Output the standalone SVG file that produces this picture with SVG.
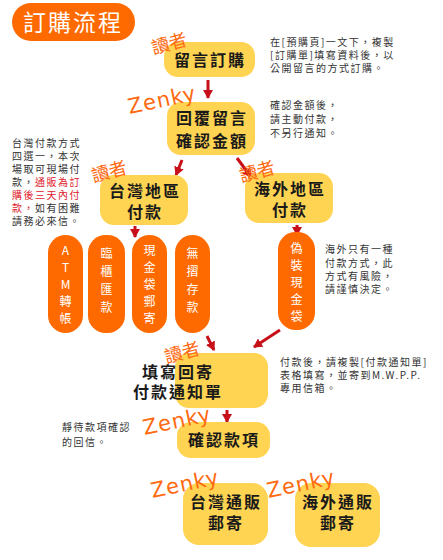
<svg xmlns="http://www.w3.org/2000/svg" width="443" height="560" viewBox="0 0 443 560">
<defs>
<marker id="ah" markerUnits="userSpaceOnUse" markerWidth="10" markerHeight="10" refX="8" refY="5" orient="auto">
<path d="M0,0 L9,5 L0,10 Z" fill="#C8101A"/>
</marker>
<style>
.node{fill:#FFD452;}
.pill{fill:#FF6A00;}
.nt{font-family:"Noto Sans CJK TC","Noto Sans CJK SC",sans-serif;font-size:16px;font-weight:bold;fill:#1a1a1a;text-anchor:middle;letter-spacing:2px;}
.pt{font-family:"Noto Sans CJK TC","Liberation Sans",sans-serif;font-size:12px;fill:#fff;text-anchor:middle;}
.note{font-family:"Noto Sans CJK TC","Noto Sans CJK SC",sans-serif;font-size:10px;fill:#333;letter-spacing:1.5px;}
.red{fill:#E0202A;}
.who{font-family:"Noto Sans CJK TC","Noto Sans CJK SC",sans-serif;font-size:18px;fill:#FF6A10;text-anchor:middle;}
.zk{font-family:"DejaVu Sans",sans-serif;font-size:21px;fill:#FF6A10;text-anchor:middle;letter-spacing:1px;}
.conn line{stroke:#C8101A;stroke-width:3;marker-end:url(#ah);}
</style>
</defs>
<rect width="443" height="560" fill="#fff"/>

<g id="title">
<rect x="12" y="3" width="123" height="38" rx="19" fill="#FF6A00"/>
<text x="73" y="31" font-family="Noto Sans CJK TC,sans-serif" font-size="23" fill="#fff" text-anchor="middle" letter-spacing="2">訂購流程</text>
</g>

<g class="conn" id="connectors">
<line x1="208" y1="80" x2="208" y2="98"/>
<line x1="182" y1="160" x2="176" y2="175"/>
<line x1="237" y1="158" x2="251" y2="177"/>
<line x1="135" y1="226" x2="135" y2="237"/>
<line x1="297" y1="225" x2="297" y2="235"/>
<line x1="207" y1="336" x2="214" y2="350"/>
<line x1="280" y1="330" x2="254" y2="347"/>
<line x1="227" y1="410" x2="227" y2="422"/>
</g>

<g id="n1">
<rect class="node" x="164" y="42" width="91" height="35" rx="14"/>
<text class="nt" x="210" y="66" font-size="15">留言訂購</text>
</g>
<g id="n2">
<rect class="node" x="167" y="102" width="88" height="53" rx="14"/>
<text class="nt" x="212" y="124">回覆留言</text>
<text class="nt" x="212" y="147">確認金額</text>
</g>
<g id="n3">
<rect class="node" x="100" y="175" width="88" height="50" rx="14"/>
<text class="nt" x="145" y="197">台灣地區</text>
<text class="nt" x="145" y="218">付款</text>
</g>
<g id="n4">
<rect class="node" x="245" y="173" width="88" height="50" rx="14"/>
<text class="nt" x="290" y="195">海外地區</text>
<text class="nt" x="290" y="216">付款</text>
</g>

<g id="p1">
<rect class="pill" x="48" y="235" width="35" height="98" rx="17.5"/>
<text class="pt" x="65.5" y="255">A</text>
<text class="pt" x="65.5" y="272">T</text>
<text class="pt" x="65.5" y="289">M</text>
<text class="pt" x="65.5" y="306">轉</text>
<text class="pt" x="65.5" y="323">帳</text>
</g>
<g id="p2">
<rect class="pill" x="88" y="235" width="37" height="98" rx="17.5"/>
<text class="pt" x="106.5" y="258">臨</text>
<text class="pt" x="106.5" y="276">櫃</text>
<text class="pt" x="106.5" y="294">匯</text>
<text class="pt" x="106.5" y="312">款</text>
</g>
<g id="p3">
<rect class="pill" x="132" y="235" width="35" height="98" rx="17.5"/>
<text class="pt" x="149.5" y="255">現</text>
<text class="pt" x="149.5" y="272">金</text>
<text class="pt" x="149.5" y="289">袋</text>
<text class="pt" x="149.5" y="306">郵</text>
<text class="pt" x="149.5" y="323">寄</text>
</g>
<g id="p4">
<rect class="pill" x="175" y="235" width="35" height="98" rx="17.5"/>
<text class="pt" x="192.5" y="258">無</text>
<text class="pt" x="192.5" y="276">摺</text>
<text class="pt" x="192.5" y="294">存</text>
<text class="pt" x="192.5" y="312">款</text>
</g>
<g id="p5">
<rect class="pill" x="278" y="232" width="37" height="98" rx="17.5"/>
<text class="pt" x="296.5" y="253">偽</text>
<text class="pt" x="296.5" y="270">裝</text>
<text class="pt" x="296.5" y="287">現</text>
<text class="pt" x="296.5" y="304">金</text>
<text class="pt" x="296.5" y="321">袋</text>
</g>

<g id="n5">
<rect class="node" x="175" y="353" width="93" height="55" rx="14"/>
<text class="nt" x="178" y="378" text-anchor="start" font-size="16.5">填寫回寄</text>
<text class="nt" x="178" y="398" text-anchor="start" font-size="16.5" letter-spacing="1">付款通知單</text>
</g>
<g id="n6">
<rect class="node" x="177" y="422" width="93" height="36" rx="14"/>
<text class="nt" x="224" y="446">確認款項</text>
</g>
<g id="n7">
<rect class="node" x="183" y="483" width="85" height="62" rx="16"/>
<text class="nt" x="226" y="508" letter-spacing="1">台灣通販</text>
<text class="nt" x="226" y="529">郵寄</text>
</g>
<g id="n8">
<rect class="node" x="295" y="483" width="85" height="64" rx="16"/>
<text class="nt" x="338" y="508" letter-spacing="1">海外通販</text>
<text class="nt" x="338" y="529">郵寄</text>
</g>

<g id="labels">
<text class="who" x="169" y="50" transform="rotate(-15 169 43)">讀者</text>
<text class="who" x="109" y="178" transform="rotate(-15 109 171)">讀者</text>
<text class="who" x="257" y="178" transform="rotate(-15 257 171)">讀者</text>
<text class="who" x="182" y="359" transform="rotate(-15 182 352)">讀者</text>
<text class="zk" x="162" y="107" transform="rotate(-12 162 100)">Zenky</text>
<text class="zk" x="177" y="428" transform="rotate(-12 177 421)">Zenky</text>
<text class="zk" x="185" y="491" transform="rotate(-12 185 484)">Zenky</text>
<text class="zk" x="301" y="491" transform="rotate(-12 301 484)">Zenky</text>
</g>

<g id="notes">
<text class="note" x="270" y="46">在[預購頁]一文下，複製</text>
<text class="note" x="270" y="59">[訂購單]填寫資料後，以</text>
<text class="note" x="270" y="72">公開留言的方式訂購。</text>

<text class="note" x="270" y="109">確認金額後，</text>
<text class="note" x="270" y="123">請主動付款，</text>
<text class="note" x="270" y="137">不另行通知。</text>

<text class="note" x="12" y="147">台灣付款方式</text>
<text class="note" x="12" y="160">四選一，本次</text>
<text class="note" x="12" y="173">場取可現場付</text>
<text class="note" x="12" y="186">款，<tspan class="red">通販為訂</tspan></text>
<text class="note red" x="12" y="199">購後三天內付</text>
<text class="note" x="12" y="212"><tspan class="red">款，</tspan>如有困難</text>
<text class="note" x="12" y="225">請務必來信。</text>

<text class="note" x="325" y="253">海外只有一種</text>
<text class="note" x="325" y="267">付款方式，此</text>
<text class="note" x="325" y="280">方式有風險，</text>
<text class="note" x="325" y="293">請謹慎決定。</text>

<text class="note" x="280" y="366" letter-spacing="1">付款後，請複製[付款通知單]</text>
<text class="note" x="280" y="379" letter-spacing="1">表格填寫，並寄到M.W.P.P.</text>
<text class="note" x="280" y="392" letter-spacing="1">專用信箱。</text>

<text class="note" x="62" y="431">靜待款項確認</text>
<text class="note" x="62" y="446">的回信。</text>
</g>
</svg>
